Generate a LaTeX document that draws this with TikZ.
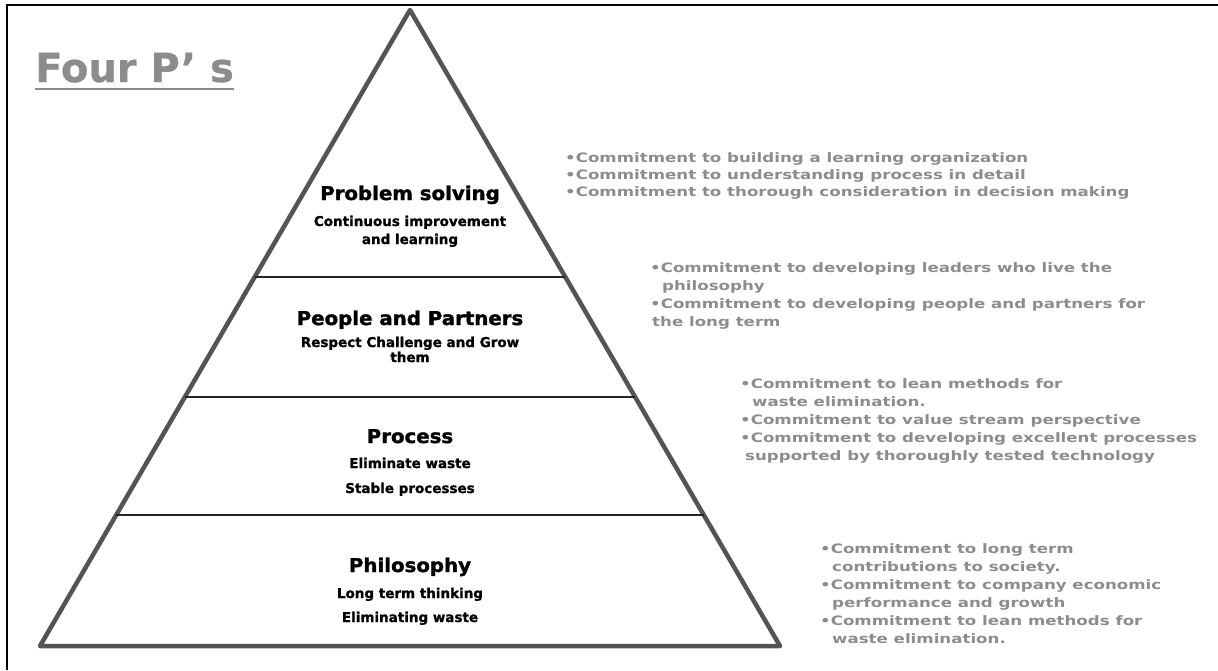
\documentclass[tikz,border=0pt]{standalone}
\usepackage{fontspec}
\setmainfont{DejaVu Sans}
\newfontfamily\pyrhead{DejaVu Sans}[BoldFeatures={FakeBold=1.6, FakeStretch=1.04}]
\newfontfamily\pyrsub{DejaVu Sans}[BoldFeatures={FakeBold=1.3}]
\newfontfamily\widefont{DejaVu Sans}[BoldFeatures={FakeStretch=1.28}]
\newfontfamily\titlefont{DejaVu Sans}[BoldFeatures={FakeBold=0.6}]
\usetikzlibrary{calc}
\definecolor{txtgray}{gray}{0.55}
\definecolor{edgegray}{gray}{0.33}
\tikzset{
  frameline/.style={line width=2pt, black},
  pyredge/.style={line width=4.5pt, edgegray, line join=round},
  divline/.style={line width=2pt, black!85},
  heading/.style={anchor=base, inner sep=0pt, font=\pyrhead\bfseries\fontsize{19}{21}\selectfont},
  sub/.style={anchor=base, inner sep=0pt, font=\pyrsub\bfseries\fontsize{13.5}{15}\selectfont},
  rt/.style={anchor=base west, inner sep=0pt, text=txtgray, font=\widefont\bfseries\fontsize{13}{15}\selectfont},
  titletxt/.style={anchor=base west, inner sep=0pt, text=txtgray, font=\titlefont\bfseries\fontsize{40}{44}\selectfont},
}
\begin{document}
\begin{tikzpicture}[x=1pt,y=-1pt]
\useasboundingbox (0,0) rectangle (1218,670);
% frame
\coordinate (f0) at (7,670);
\coordinate (f1) at (7,5);
\coordinate (f2) at (1218,5);
\draw[frameline] (f0) -- (f1) -- (f2);
% title
\node[titletxt] (title) at (35,82) {Four P’ s};
\draw[line width=1.5pt, txtgray] (title.base west) ++(0,7) coordinate (u0) -- (u0 -| title.base east);
% pyramid
\coordinate (apex) at (410,10);
\coordinate (bl) at (40,646);
\coordinate (br) at (780,646);
\draw[pyredge] (apex) -- (bl) -- (br) -- cycle;
\foreach \t/\n in {0.4198/1,0.6085/2,0.794/3}{
  \coordinate (l\n) at ($(apex)!\t!(bl)$);
  \coordinate (r\n) at ($(apex)!\t!(br)$);
  \draw[divline] (l\n) -- (r\n);
}
% pyramid texts
\node[heading] (h1) at (410,200) {Problem solving};
\node[sub] (s1a) at (410,226) {Continuous improvement};
\node[sub] (s1b) at (410,244) {and learning};
\node[heading] (h2) at (410,325) {People and Partners};
\node[sub] (s2a) at (410,347) {Respect Challenge and Grow};
\node[sub] (s2b) at (410,362) {them};
\node[heading] (h3) at (410,443) {Process};
\node[sub] (s3a) at (410,468) {Eliminate waste};
\node[sub] (s3b) at (410,493) {Stable processes};
\node[heading] (h4) at (410,572) {Philosophy};
\node[sub] (s4a) at (410,598) {Long term thinking};
\node[sub] (s4b) at (410,622) {Eliminating waste};
% right texts block 1
\node[rt] (a1) at (565,162) {•Commitment to building a learning organization};
\node[rt] (a2) at (565,179) {•Commitment to understanding process in detail};
\node[rt] (a3) at (565,196) {•Commitment to thorough consideration in decision making};
% block 2
\node[rt] (b1) at (650,272) {•Commitment to developing leaders who live the};
\node[rt] (b2) at (662,290) {philosophy};
\node[rt] (b3) at (650,308) {•Commitment to developing people and partners for};
\node[rt] (b4) at (652,326) {the long term};
% block 3
\node[rt] (c1) at (740,388) {•Commitment to lean methods for};
\node[rt] (c2) at (752,406) {waste elimination.};
\node[rt] (c3) at (740,424) {•Commitment to value stream perspective};
\node[rt] (c4) at (740,442) {•Commitment to developing excellent processes};
\node[rt] (c5) at (745,460) {supported by thoroughly tested technology};
% block 4
\node[rt] (d1) at (820,553) {•Commitment to long term};
\node[rt] (d2) at (832,571) {contributions to society.};
\node[rt] (d3) at (820,589) {•Commitment to company economic};
\node[rt] (d4) at (832,607) {performance and growth};
\node[rt] (d5) at (820,625) {•Commitment to lean methods for};
\node[rt] (d6) at (832,643) {waste elimination.};
\end{tikzpicture}
\end{document}
